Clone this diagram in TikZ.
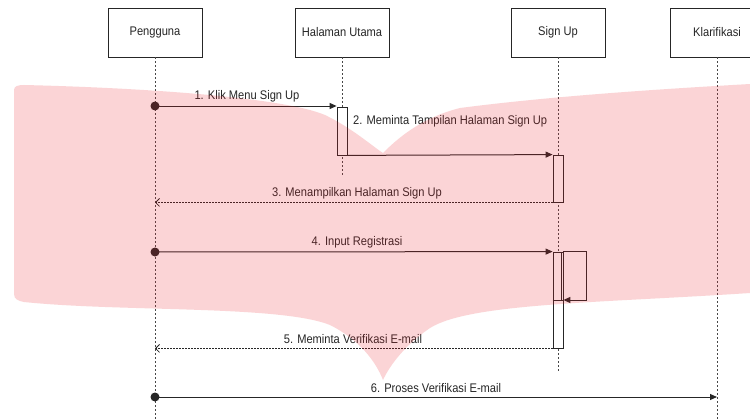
\documentclass[tikz,border=0pt]{standalone}
\usepackage{fontspec}
\setmainfont{Liberation Sans}
\usepackage{graphicx}
\usetikzlibrary{arrows.meta}
\newcommand\nar[1]{\scalebox{0.89}[1]{#1}}
\definecolor{ink}{HTML}{262626}
\definecolor{wm}{RGB}{235,30,40}
\begin{document}
\begin{tikzpicture}[x=1pt,y=-1pt,
 obj/.style={draw=ink, line width=0.8pt, fill=white, minimum width=94pt, minimum height=49pt, inner sep=0pt, font=\fontsize{12.5}{14}\selectfont, text=ink},
 life/.style={draw=ink!85, line width=0.7pt, dash pattern=on 2pt off 2pt},
 act/.style={draw=ink, line width=0.8pt, fill=white, minimum width=10pt, inner sep=0pt},
 msg/.style={draw=ink, line width=1pt, -{Triangle[length=7pt,width=6pt]}},
 ret/.style={draw=ink, line width=0.8pt, dash pattern=on 1.5pt off 1.5pt, -{Straight Barb[length=4pt,width=8pt]}},
 lbl/.style={inner sep=0pt, font=\fontsize{12.5}{14}\selectfont, text=ink},
 dotc/.style={fill=ink}
]
\useasboundingbox (0,0) rectangle (750,420);
\fill[white] (0,0) rectangle (750,420);

% objects
\node[obj] (pg) at (155,32.5) {\nar{Pengguna}};
\node[obj] (hu) at (342,32.5) {\nar{Halaman Utama}};
\node[obj] (su) at (558,32.5) {\nar{Sign Up}};
\node[obj] (kl) at (717,32.5) {\nar{Klarifikasi}};

% lifelines
\coordinate (pgE) at (155,420);
\coordinate (huE) at (342,177);
\coordinate (suE) at (558,373);
\coordinate (klE) at (717,420);
\draw[life] (pg.south) -- (pgE);
\draw[life] (hu.south) -- (huE);
\draw[life] (su.south) -- (suE);
\draw[life] (kl.south) -- (klE);

% activations
\node[act, minimum height=48pt] (a1) at (342,131) {};
\node[act, minimum height=47pt] (a2) at (558,178.5) {};
\node[act, minimum height=96pt] (a3) at (558,300) {};
\coordinate (a3m) at (558,300);
\draw[draw=ink, line width=0.8pt] (a3m -| a3.west) -- (a3m -| a3.east);
\draw[draw=ink, line width=0.8pt] (561.5,252) -- (561.5,300);

% message 1
\coordinate (m1s) at (155,106);
\fill[dotc] (m1s) circle (4.5);
\draw[msg] (m1s) -- (m1s -| a1.west);
\node[lbl] (l1) at (247,96) {\nar{1. Klik Menu Sign Up}};

% message 2
\draw[msg] (a1.south east) -- (a2.north west);
\node[lbl, anchor=west] (l2) at (353,121) {\nar{2. Meminta Tampilan Halaman Sign Up}};

% message 3
\draw[ret] (a2.south west) -- (a2.south west -| pg.south);
\node[lbl] (l3) at (357,193) {\nar{3. Menampilkan Halaman Sign Up}};

% message 4
\coordinate (m4s) at (155,252);
\fill[dotc] (m4s) circle (4.5);
\draw[msg] (m4s) -- (a3.north west);
\node[lbl] (l4) at (357,242) {\nar{4. Input Registrasi}};

% self loop
\coordinate (sl) at (586,300);
\draw[msg] (a3.north east) -| (sl) -- (a3m -| a3.east);

% message 5
\draw[ret] (a3.south west) -- (a3.south west -| pg.south);
\node[lbl] (l5) at (353,339) {\nar{5. Meminta Verifikasi E-mail}};

% message 6
\coordinate (m6s) at (155,397);
\fill[dotc] (m6s) circle (4.5);
\draw[msg] (m6s) -- (m6s -| kl.south);
\node[lbl] (l6) at (436,388) {\nar{6. Proses Verifikasi E-mail}};

% watermark
\fill[wm, fill opacity=0.19]
  (14,90) .. controls (14,86) and (18,85) .. (24,85)
  .. controls (150,88) and (285,98) .. (325,115)
  .. controls (352,128) and (372,146) .. (383,153)
  .. controls (396,140) and (420,118) .. (460,108)
  .. controls (560,95) and (680,88) .. (750,84)
  -- (750,293)
  .. controls (600,303) and (470,303) .. (430,328)
  .. controls (405,345) and (390,365) .. (383,380)
  .. controls (376,362) and (360,340) .. (330,325)
  .. controls (280,305) and (120,312) .. (24,302)
  .. controls (18,301) and (14,299) .. (14,294) -- cycle;
\end{tikzpicture}
\end{document}
